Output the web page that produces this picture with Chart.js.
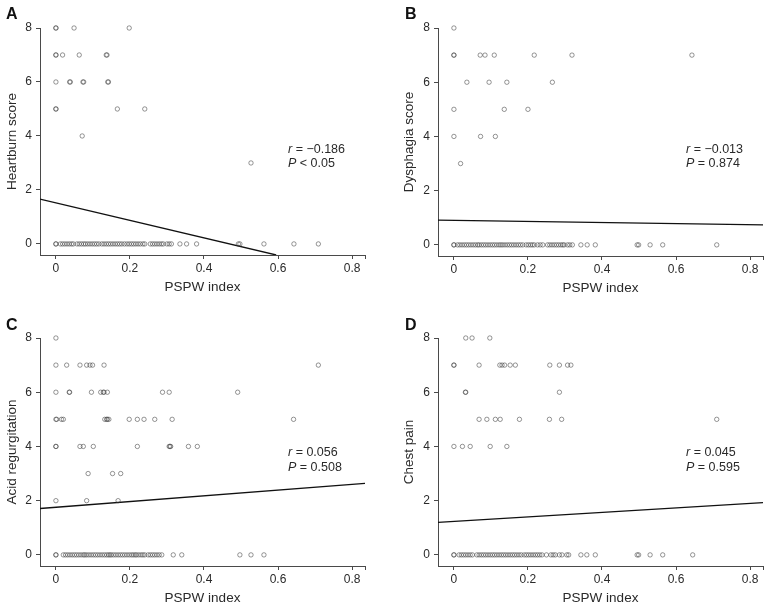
<!DOCTYPE html>
<html><head><meta charset="utf-8">
<script src="https://cdn.jsdelivr.net/npm/chart.js@4/dist/chart.umd.min.js"></script>
<style>
html,body{margin:0;padding:0;background:#fff;overflow:hidden;}
#wrap{position:relative;width:770px;height:610px;}
canvas{position:absolute;}
</style></head><body>
<div id="wrap">
<canvas id="cA" width="385" height="305" style="left:0;top:0"></canvas>
<canvas id="cB" width="385" height="305" style="left:385px;top:0"></canvas>
<canvas id="cC" width="385" height="305" style="left:0;top:305px"></canvas>
<canvas id="cD" width="385" height="305" style="left:385px;top:305px"></canvas>
</div>
<script>
// ---- data ----
const xTickValues = [0, 0.2, 0.4, 0.6, 0.8];
const yTickValues = [0, 2, 4, 6, 8];
const panelLetters = ['A', 'B', 'C', 'D'];
const yAxisTitles = ['Heartburn score', 'Dysphagia score', 'Acid regurgitation', 'Chest pain'];
const xAxisTitle = 'PSPW index';
const rValues = ['\u22120.186', '\u22120.013', '0.056', '0.045'];
const pTexts = ['< 0.05', '= 0.874', '= 0.508', '= 0.595'];

// Heartburn (A)
const heartburnX = [0,0,0.049,0.198, 0,0,0.018,0.063,0.136,0.138, 0,0.037,0.039,0.073,0.075,0.140,0.142, 0,0,0.166,0.24, 0.071, 0.527];
const heartburnY = [8,8,8,8, 7,7,7,7,7,7, 6,6,6,6,6,6,6, 5,5,5,5, 4, 3];
const heartburnZeroX = [0,0,0.012,0.018,0.024,0.03,0.036,0.042,0.047,0.057,0.063,0.069,0.075,0.08,0.086,0.092,0.098,0.104,0.11,0.116,0.124,0.13,0.136,0.142,0.148,0.154,0.16,0.166,0.172,0.178,0.185,0.192,0.198,0.204,0.21,0.216,0.222,0.228,0.235,0.24,0.255,0.261,0.267,0.273,0.279,0.285,0.29,0.3,0.306,0.312,0.335,0.353,0.38,0.493,0.497,0.562,0.643,0.709];
const heartburnFitX = [-0.043, 0.595];
const heartburnFitY = [1.66, -0.41];

// Dysphagia (B)
const dysphagiaX = [0, 0,0,0.071,0.084,0.109,0.217,0.319,0.643, 0.035,0.095,0.143,0.266, 0,0.136,0.2, 0,0.072,0.112, 0.018];
const dysphagiaY = [8, 7,7,7,7,7,7,7,7, 6,6,6,6, 5,5,5, 4,4,4, 3];
const dysphagiaZeroX = [0,0,0.01,0.016,0.022,0.028,0.034,0.04,0.046,0.052,0.058,0.064,0.068,0.074,0.08,0.086,0.092,0.098,0.104,0.11,0.116,0.122,0.127,0.132,0.138,0.144,0.15,0.156,0.162,0.168,0.174,0.18,0.186,0.195,0.201,0.207,0.212,0.217,0.226,0.233,0.24,0.253,0.259,0.265,0.271,0.277,0.283,0.289,0.294,0.298,0.307,0.313,0.32,0.343,0.36,0.382,0.495,0.499,0.53,0.564,0.71];
const dysphagiaFitX = [-0.043, 0.835];
const dysphagiaFitY = [0.91, 0.74];

// Acid regurgitation (C)
const acidX = [0, 0,0.029,0.065,0.083,0.092,0.099,0.13,0.709, 0,0.036,0.037,0.096,0.121,0.128,0.13,0.139,0.288,0.306,0.491, 0,0.002,0.015,0.02,0.132,0.137,0.139,0.143,0.198,0.22,0.238,0.267,0.314,0.642, 0,0,0.065,0.074,0.101,0.22,0.306,0.308,0.31,0.358,0.382, 0.087,0.153,0.175, 0,0.083,0.168];
const acidY = [8, 7,7,7,7,7,7,7,7, 6,6,6,6,6,6,6,6,6,6,6, 5,5,5,5,5,5,5,5,5,5,5,5,5,5, 4,4,4,4,4,4,4,4,4,4,4, 3,3,3, 2,2,2];
const acidZeroX = [0,0,0.02,0.026,0.032,0.038,0.044,0.05,0.056,0.062,0.068,0.074,0.078,0.083,0.089,0.095,0.101,0.107,0.113,0.119,0.125,0.131,0.137,0.142,0.146,0.15,0.156,0.162,0.168,0.174,0.18,0.186,0.192,0.198,0.204,0.209,0.214,0.218,0.224,0.23,0.235,0.24,0.249,0.255,0.261,0.267,0.273,0.279,0.286,0.317,0.34,0.497,0.527,0.562];
const acidFitX = [-0.043, 0.835];
const acidFitY = [1.71, 2.64];

// Chest pain (D)
const chestX = [0.032,0.049,0.097, 0,0,0.068,0.124,0.13,0.137,0.152,0.166,0.259,0.285,0.307,0.316, 0.031,0.032,0.285, 0.068,0.089,0.112,0.125,0.177,0.258,0.291,0.71, 0,0.023,0.044,0.098,0.143];
const chestY = [8,8,8, 7,7,7,7,7,7,7,7,7,7,7,7, 6,6,6, 5,5,5,5,5,5,5,5, 4,4,4,4,4];
const chestZeroX = [0,0,0.014,0.02,0.026,0.032,0.038,0.044,0.05,0.062,0.068,0.074,0.08,0.086,0.092,0.098,0.104,0.11,0.116,0.122,0.128,0.134,0.14,0.146,0.152,0.158,0.164,0.17,0.176,0.182,0.19,0.196,0.202,0.208,0.214,0.22,0.226,0.232,0.238,0.25,0.262,0.268,0.274,0.285,0.292,0.305,0.31,0.343,0.359,0.382,0.495,0.499,0.53,0.564,0.645];
const chestFitX = [-0.043, 0.835];
const chestFitY = [1.20, 1.93];

// ---- layout (absolute page px) ----
const panels = [
  {id:'cA', cl:0,   ct:0,   cw:385, ch:305, L:40,  R:365, T:28,  B:255, xTitleY:287, yTitleX:12.5, letterX:6,   letterY:19,  textX:288, rY:153, pY:167,
   px:heartburnX, py:heartburnY, zx:heartburnZeroX, fx:heartburnFitX, fy:heartburnFitY},
  {id:'cB', cl:385, ct:0,   cw:385, ch:305, L:438, R:763, T:28,  B:256, xTitleY:288, yTitleX:409, letterX:405, letterY:19,  textX:686, rY:153, pY:167,
   px:dysphagiaX, py:dysphagiaY, zx:dysphagiaZeroX, fx:dysphagiaFitX, fy:dysphagiaFitY},
  {id:'cC', cl:0,   ct:305, cw:385, ch:305, L:40,  R:365, T:338, B:566, xTitleY:598, yTitleX:12.5, letterX:6,   letterY:329.5, textX:288, rY:456, pY:470.5,
   px:acidX, py:acidY, zx:acidZeroX, fx:acidFitX, fy:acidFitY},
  {id:'cD', cl:385, ct:305, cw:385, ch:305, L:438, R:763, T:338, B:566, xTitleY:598, yTitleX:409, letterX:405, letterY:329.5, textX:686, rY:456, pY:470.5,
   px:chestX, py:chestY, zx:chestZeroX, fx:chestFitX, fy:chestFitY}
];

const FONT = "'Liberation Sans', Arial, Helvetica, sans-serif";
const TXT = '#2a2a2a';
const AXIS = '#4a4a4a';
const titleSize = 13.5, titleLH = titleSize * 1.2;

panels.forEach((p, i) => {
  const pts = p.zx.map(x => ({x: x, y: 0})).concat(p.px.map((x, k) => ({x: x, y: p.py[k]})));
  const fit = p.fx.map((x, k) => ({x: x, y: p.fy[k]}));
  const textPlugin = {
    id: 'txt' + i,
    afterDraw(chart) {
      const ctx = chart.ctx;
      ctx.save();
      ctx.fillStyle = '#111';
      ctx.textBaseline = 'alphabetic';
      ctx.textAlign = 'left';
      ctx.font = 'bold 16px ' + FONT;
      ctx.fillText(panelLetters[i], p.letterX - p.cl, p.letterY - p.ct);
      ctx.fillStyle = TXT;
      const tx = p.textX - p.cl;
      ctx.font = 'italic 12.5px ' + FONT;
      ctx.fillText('r', tx, p.rY - p.ct);
      let w = ctx.measureText('r').width;
      ctx.font = '12.5px ' + FONT;
      ctx.fillText(' = ' + rValues[i], tx + w, p.rY - p.ct);
      ctx.font = 'italic 12.5px ' + FONT;
      ctx.fillText('P', tx, p.pY - p.ct);
      w = ctx.measureText('P').width;
      ctx.font = '12.5px ' + FONT;
      ctx.fillText(' ' + pTexts[i], tx + w, p.pY - p.ct);
      ctx.restore();
    }
  };
  new Chart(document.getElementById(p.id), {
    type: 'scatter',
    data: { datasets: [
      { data: pts, pointRadius: 2.2, pointHoverRadius: 2.2, pointBorderWidth: 0.9,
        borderColor: 'rgba(60,60,60,0.6)', backgroundColor: 'rgba(0,0,0,0)', clip: false },
      { data: fit, showLine: true, pointRadius: 0, borderColor: '#111', borderWidth: 1.3, fill: false, tension: 0 }
    ]},
    options: {
      responsive: false, animation: false, events: [],
      layout: { padding: { left: 0, right: p.cl + p.cw - p.R, top: p.T - p.ct, bottom: 0 } },
      plugins: { legend: { display: false }, tooltip: { enabled: false } },
      scales: {
        x: {
          type: 'linear', min: -0.043, max: 0.835,
          afterBuildTicks: s => { s.ticks = xTickValues.map(v => ({value: v})).concat([{value: 0.835}]); },
          afterFit: s => { s.height = p.ct + p.ch - p.B; },
          ticks: { callback: v => xTickValues.includes(v) ? String(v) : '', autoSkip: false, maxRotation: 0,
                   font: { size: 12, family: FONT }, color: TXT, padding: 2 },
          grid: { drawOnChartArea: false, drawTicks: true, tickLength: 4, color: AXIS, lineWidth: 1 },
          border: { display: true, color: AXIS, width: 1 },
          title: { display: true, text: xAxisTitle, color: TXT, font: { size: titleSize, family: FONT },
                   padding: { top: 0, bottom: (p.ct + p.ch - p.xTitleY) - titleLH / 2 } }
        },
        y: {
          type: 'linear', min: -0.41, max: 8,
          afterBuildTicks: s => { s.ticks = yTickValues.map(v => ({value: v})); },
          afterFit: s => { s.width = p.L - p.cl; },
          ticks: { callback: v => String(v), autoSkip: false, font: { size: 12, family: FONT }, color: TXT, padding: 4 },
          grid: { drawOnChartArea: false, drawTicks: true, tickLength: 4, color: AXIS, lineWidth: 1 },
          border: { display: true, color: AXIS, width: 1 },
          title: { display: true, text: yAxisTitles[i], color: TXT, font: { size: titleSize, family: FONT },
                   padding: { top: (p.yTitleX - p.cl) - titleLH / 2, bottom: 0 } }
        }
      }
    },
    plugins: [textPlugin]
  });
});
</script>
</body></html>
